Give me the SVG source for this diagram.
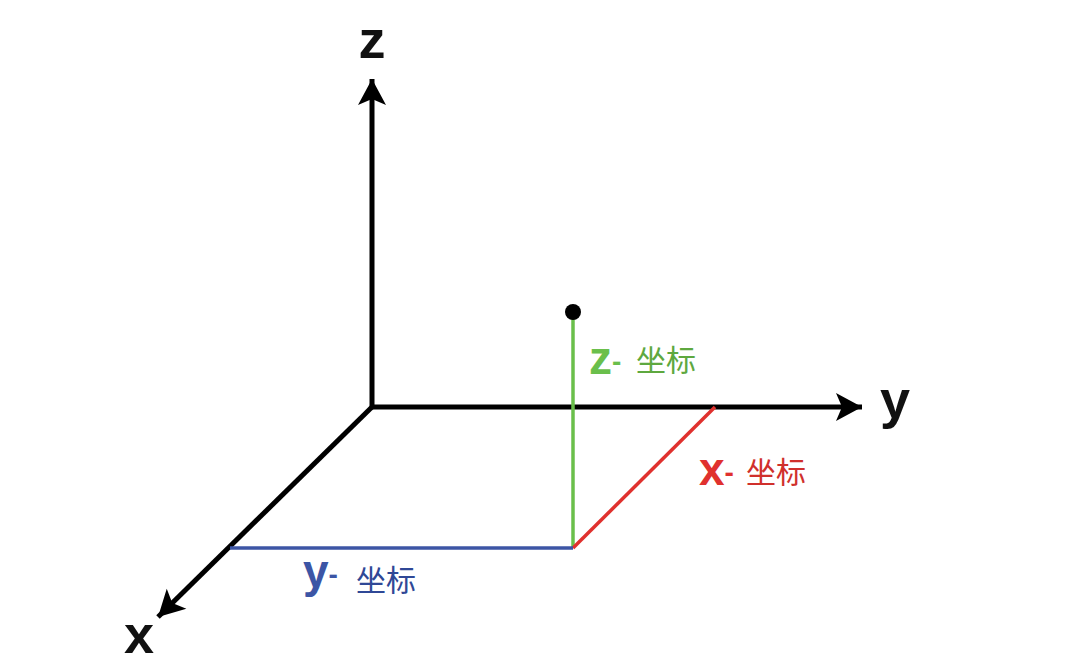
<svg xmlns="http://www.w3.org/2000/svg" width="1087" height="666" viewBox="0 0 1087 666">
<defs>
<marker id="ah" viewBox="0 0 30 30" refX="28" refY="15" markerWidth="30" markerHeight="30" markerUnits="userSpaceOnUse" orient="auto">
<path d="M28,15 L2,1 L8,15 L2,29 Z" fill="#000"/>
</marker>
<style>
.axis{stroke:#000;stroke-width:5;fill:none}
.lab{font-family:"Liberation Sans",Arial,sans-serif;font-size:54px;font-weight:bold;fill:#111}
.cl{font-family:"Liberation Sans",Arial,sans-serif;font-weight:bold;font-size:46px}
.cn{font-family:"Noto Sans CJK SC",sans-serif;font-size:30px}
</style>
</defs>
<rect width="1087" height="666" fill="#fff"/>
<g id="connectors">
<line class="axis" x1="372" y1="407" x2="372" y2="79" marker-end="url(#ah)"/>
<line class="axis" x1="370" y1="407" x2="862" y2="407" marker-end="url(#ah)"/>
<line class="axis" x1="372" y1="407" x2="158" y2="617" marker-end="url(#ah)"/>
<line x1="573" y1="312" x2="573" y2="548" stroke="#6abf4b" stroke-width="3.5"/>
<line x1="573" y1="548" x2="715" y2="407" stroke="#e0312e" stroke-width="3.5"/>
<line x1="230" y1="548" x2="573" y2="548" stroke="#3c55a5" stroke-width="3.5"/>
</g>
<g id="point"><circle cx="573" cy="312" r="8" fill="#000"/></g>
<g id="axis-labels">
<text class="lab" x="372" y="58" text-anchor="middle">z</text>
<text class="lab" x="895" y="418" text-anchor="middle">y</text>
<text class="lab" x="139" y="653" text-anchor="middle">x</text>
</g>
<g id="z-label">
<text x="589" y="374" class="cl" fill="#6abf4b">z<tspan font-size="28" dy="-3">-</tspan></text>
<text x="636" y="371" class="cn" fill="#5ea83f">坐标</text>
</g>
<g id="x-label">
<text x="699" y="485" class="cl" fill="#e0312e">x<tspan font-size="28" dy="-3">-</tspan></text>
<text x="746" y="483" class="cn" fill="#d0302c">坐标</text>
</g>
<g id="y-label">
<text x="303" y="587" class="cl" fill="#3c55a5">y<tspan font-size="28" dy="-3">-</tspan></text>
<text x="356" y="591" class="cn" fill="#2f4896">坐标</text>
</g>
</svg>
